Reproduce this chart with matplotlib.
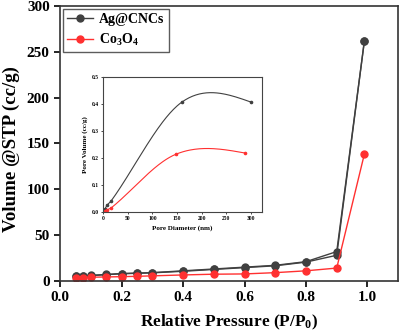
import numpy as np
import matplotlib.pyplot as plt

plt.rcParams['font.family'] = ['Liberation Serif', 'DejaVu Serif']
plt.rcParams['font.weight'] = 'bold'
plt.rcParams['mathtext.fontset'] = 'custom'
plt.rcParams['mathtext.rm'] = 'Liberation Serif:bold'
plt.rcParams['mathtext.it'] = 'Liberation Serif:bold'

# isotherm data
p_ads = [0.05, 0.075, 0.1, 0.15, 0.2, 0.25, 0.3, 0.4, 0.5, 0.6, 0.7, 0.8, 0.9, 0.99]
ag_ads = [5, 5.5, 6, 7, 8, 8.5, 9, 11, 13, 15, 17, 21, 32, 262]
ag_des = [4.8, 5.3, 5.8, 6.8, 7.8, 8.3, 8.8, 10.5, 12.5, 14.5, 16.5, 20.5, 28, 262]
co_ads = [3.5, 3.7, 4, 4.3, 4.6, 5, 5.5, 6.5, 7.3, 7.6, 9, 11, 14, 138.5]

# pore size distribution (inset)
d_ag = [0, 4, 8, 16, 160, 300]
v_ag = [0, 0.012, 0.025, 0.04, 0.407, 0.407]
d_co = [0, 4, 8, 17, 148, 289]
v_co = [0, 0.004, 0.008, 0.016, 0.214, 0.218]

c_ag = '#404040'
c_co = '#ff3030'


def smooth(x, y, n=60):
    # cardinal (Catmull-Rom style) Hermite curve through the points
    x = np.asarray(x, float)
    y = np.asarray(y, float)
    m = len(x)
    sec = np.diff(y) / np.diff(x)
    tan = np.zeros(m)
    for i in range(1, m - 1):
        tan[i] = (y[i + 1] - y[i - 1]) / (x[i + 1] - x[i - 1])
    tan[0] = 1.5 * sec[0] - 0.5 * tan[1]
    tan[-1] = 1.5 * sec[-1] - 0.5 * tan[-2]
    xs, ys = [], []
    for k in range(m - 1):
        h = x[k + 1] - x[k]
        t = np.linspace(0, 1, n)
        h00 = 2 * t**3 - 3 * t**2 + 1
        h10 = t**3 - 2 * t**2 + t
        h01 = -2 * t**3 + 3 * t**2
        h11 = t**3 - t**2
        xs.append(x[k] + t * h)
        ys.append(h00 * y[k] + h10 * h * tan[k] + h01 * y[k + 1] + h11 * h * tan[k + 1])
    return np.concatenate(xs), np.concatenate(ys)


fig = plt.figure(figsize=(4.01, 3.36), dpi=100)
ax = fig.add_axes([0.150, 0.164, 0.843, 0.818])

ax.plot(p_ads, ag_ads, '-o', color=c_ag, ms=5, lw=1, label='Ag@CNCs')
ax.plot(p_ads, ag_des, '-o', color=c_ag, ms=5, lw=1)
ax.plot(p_ads, co_ads, '-o', color=c_co, ms=5, lw=1, label='Co$_3$O$_4$')

ax.set_xlim(0, 1.1)
ax.set_ylim(0, 300)
ax.set_xticks([0.0, 0.2, 0.4, 0.6, 0.8, 1.0])
ax.set_yticks([0, 50, 100, 150, 200, 250, 300])
ax.tick_params(labelsize=11, width=1.2, length=4)
for s in ax.spines.values():
    s.set_linewidth(1.2)
    s.set_color('#333333')
ax.set_xlabel('Relative Pressure (P/P$_0$)', fontsize=12.4, fontweight='bold', labelpad=6)
ax.set_ylabel('Volume @STP (cc/g)', fontsize=13.6, fontweight='bold')
ax.yaxis.set_label_coords(-0.118, 0.48)
leg = ax.legend(loc='upper left', fontsize=10, fancybox=False, edgecolor='#333333',
                borderaxespad=0.2, handlelength=1.9, handletextpad=0.4,
                borderpad=0.3, labelspacing=0.4)
leg.get_frame().set_linewidth(1.0)

# inset
ins = fig.add_axes([0.257, 0.369, 0.397, 0.402])
xs, ys = smooth(d_ag, v_ag)
ins.plot(xs, ys, color=c_ag, lw=0.8)
ins.plot(d_ag, v_ag, 'o', color=c_ag, ms=1.6)
xs, ys = smooth(d_co, v_co)
ins.plot(xs, ys, color=c_co, lw=0.8)
ins.plot(d_co, v_co, 'o', color=c_co, ms=1.6)
ins.set_xlim(0, 323)
ins.set_ylim(0, 0.5)
ins.set_xticks([0, 50, 100, 150, 200, 250, 300])
ins.set_yticks([0.0, 0.1, 0.2, 0.3, 0.4, 0.5])
ins.tick_params(labelsize=4, width=0.5, length=1.5, pad=1.5)
for s in ins.spines.values():
    s.set_linewidth(0.8)
    s.set_color('#444444')
ins.set_xlabel('Pore Diameter (nm)', fontsize=5, fontweight='bold', labelpad=3)
ins.set_ylabel('Pore Volume (cc/g)', fontsize=5, fontweight='bold', labelpad=3)

fig.savefig('out.png', dpi=100)
